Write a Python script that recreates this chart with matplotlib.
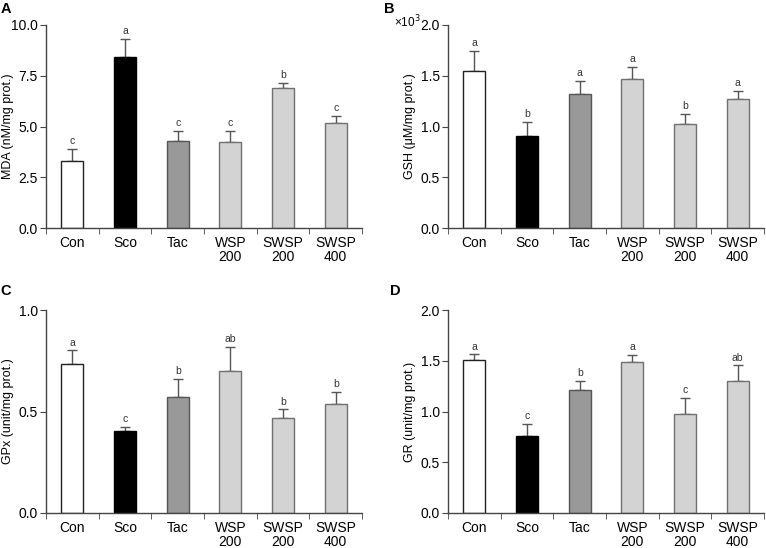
import matplotlib
matplotlib.use("Agg")
import matplotlib.pyplot as plt
import numpy as np

plt.rcParams['font.family'] = ['Liberation Sans', 'DejaVu Sans']

# Data
groups = ["Con", "Sco", "Tac", "WSP\n200", "SWSP\n200", "SWSP\n400"]

mda = [3.30, 8.41, 4.28, 4.26, 6.90, 5.15]
mda_err = [0.60, 0.89, 0.52, 0.54, 0.23, 0.37]
mda_sig = ["c", "a", "c", "c", "b", "c"]

gsh = [1.551, 0.911, 1.325, 1.468, 1.020, 1.268]
gsh_err = [0.197, 0.138, 0.127, 0.118, 0.104, 0.086]
gsh_sig = ["a", "b", "a", "a", "b", "a"]

gpx = [0.732, 0.405, 0.572, 0.701, 0.470, 0.539]
gpx_err = [0.069, 0.021, 0.089, 0.118, 0.040, 0.056]
gpx_sig = ["a", "c", "b", "ab", "b", "b"]

gr = [1.510, 0.757, 1.207, 1.484, 0.977, 1.296]
gr_err = [0.052, 0.121, 0.096, 0.075, 0.158, 0.158]
gr_sig = ["a", "c", "b", "a", "c", "ab"]

# Styles
face = ["#ffffff", "#000000", "#999999", "#d3d3d3", "#d3d3d3", "#d3d3d3"]
edge = ["#222222", "#000000", "#555555", "#707070", "#707070", "#707070"]

W, H = 766, 548
fig = plt.figure(figsize=(W / 100, H / 100), dpi=100)


def panel(px_left, px_top, values, errs, sigs, ylim, yticks, ylabel, letter, letter_xy):
    ax = fig.add_axes([px_left / W, 1 - (px_top + 203) / H, 316 / W, 203 / H])
    x = np.arange(len(groups))
    ax.bar(x, values, 0.42, color=face, edgecolor=edge, linewidth=1.0, zorder=2)
    ax.errorbar(x, values, yerr=[np.zeros(len(errs)), errs], fmt="none",
                ecolor="#555555", elinewidth=1.0, capsize=3.5, capthick=1.0, zorder=1)
    for xi, v, e, s in zip(x, values, errs, sigs):
        ax.annotate(s, xy=(xi, v + e), xytext=(0, 2), textcoords="offset points",
                    ha="center", va="bottom", fontsize=7.5, color="#333333")
    ax.set_xlim(-0.5, len(groups) - 0.5)
    ax.set_ylim(*ylim)
    ax.set_yticks(yticks)
    ax.set_yticklabels([f"{t:.1f}" for t in yticks])
    ax.set_xticks(x)
    ax.set_xticklabels(groups, fontsize=10, linespacing=1.0)
    ax.set_xticks(np.arange(-0.5, len(groups)), minor=True)
    ax.tick_params(axis="x", which="major", length=0, pad=6)
    ax.tick_params(axis="x", which="minor", length=4, direction="out", color="#444444")
    ax.tick_params(axis="y", length=4, direction="out", labelsize=10, pad=2,
                   color="#444444")
    for sp in ["top", "right"]:
        ax.spines[sp].set_visible(False)
    for sp in ["left", "bottom"]:
        ax.spines[sp].set_color("#444444")
        ax.spines[sp].set_linewidth(1.0)
    ax.set_ylabel(ylabel, fontsize=9)
    ax.yaxis.set_label_coords(-32 / 316, 0.5)
    fig.text(letter_xy[0] / W, 1 - letter_xy[1] / H, letter,
             fontsize=10.5, fontweight="bold", ha="center", va="center")
    return ax


panel(46, 25, mda, mda_err, mda_sig, (0, 10), [0, 2.5, 5.0, 7.5, 10.0],
      "MDA (nM/mg prot.)", "A", (6, 9))
panel(448, 25, gsh, gsh_err, gsh_sig, (0, 2.0), [0, 0.5, 1.0, 1.5, 2.0],
      "GSH (\u03bcM/mg prot.)", "B", (389, 9))
fig.text(394 / W, 1 - 22 / H, "\u00d710$^3$", fontsize=8.5, ha="left", va="center")
panel(46, 310, gpx, gpx_err, gpx_sig, (0, 1.0), [0, 0.5, 1.0],
      "GPx (unit/mg prot.)", "C", (6, 291))
panel(448, 310, gr, gr_err, gr_sig, (0, 2.0), [0, 0.5, 1.0, 1.5, 2.0],
      "GR (unit/mg prot.)", "D", (395, 291))

fig.savefig("out.png", dpi=100)
